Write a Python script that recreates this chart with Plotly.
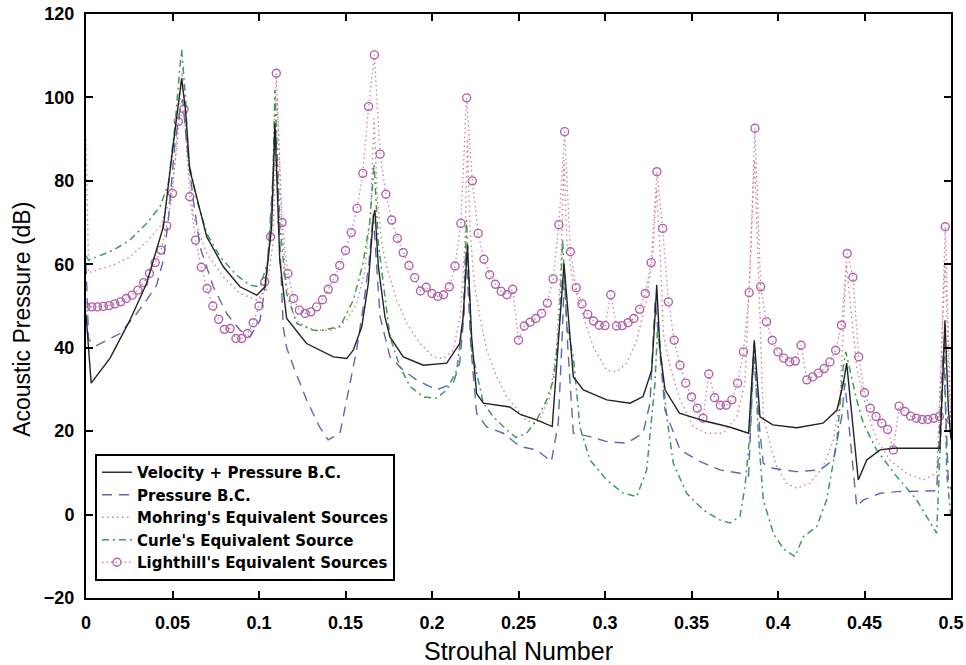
import plotly.graph_objects as go

# ---- Velocity + Pressure B.C. (solid) ----
vp_x = [0.0, 0.003, 0.0139, 0.0254, 0.035, 0.0447, 0.0505, 0.0553, 0.0575, 0.060, 0.0698, 0.0794,
        0.089, 0.0987, 0.1035, 0.1073, 0.1092, 0.112, 0.116, 0.1275, 0.143, 0.1507, 0.1545, 0.1594,
        0.1632, 0.1661, 0.167, 0.169, 0.1728, 0.1757, 0.1834, 0.195, 0.2085, 0.216, 0.218, 0.2205,
        0.2229, 0.2258, 0.2297, 0.245, 0.251, 0.2605, 0.2695, 0.2763, 0.2817, 0.2875, 0.301, 0.3145,
        0.322, 0.327, 0.3289, 0.3299, 0.3318, 0.3347, 0.343, 0.3588, 0.372, 0.383, 0.3863, 0.3896,
        0.397, 0.4108, 0.426, 0.434, 0.4378, 0.4397, 0.4464, 0.4513, 0.459, 0.4667, 0.4936, 0.4965,
        0.4985, 0.5]
vp_y = [48.0, 31.5, 37.5, 46.6, 55.4, 69.0, 89.0, 104.6, 97.0, 82.6, 66.6, 59.4,
        54.6, 52.6, 54.6, 69.0, 93.8, 61.0, 47.0, 41.0, 37.8, 37.4, 39.4, 45.0,
        55.4, 71.4, 73.0, 59.4, 47.4, 42.6, 37.8, 35.8, 36.3, 41.0, 47.4, 64.6,
        42.6, 29.0, 26.7, 25.8, 24.0, 22.7, 21.1, 60.2, 33.0, 29.9, 27.5, 26.7,
        28.3, 34.6, 47.4, 55.0, 39.4, 29.9, 24.3, 22.3, 21.0, 19.5, 41.8, 23.4,
        21.5, 20.8, 21.9, 25.0, 31.5, 36.3, 8.3, 13.1, 15.5, 15.9, 15.9, 46.6,
        25.0, 18.0]

# ---- Pressure B.C. (dashed) ----
pb_x = [0.0, 0.0015, 0.006, 0.0197, 0.0293, 0.035, 0.0408, 0.0447, 0.0476, 0.0514, 0.0543, 0.0558,
        0.0582, 0.062, 0.0659, 0.0736, 0.0813, 0.089, 0.0948, 0.1006, 0.1044, 0.1073, 0.1098, 0.1125,
        0.114, 0.116, 0.12, 0.1275, 0.135, 0.14, 0.1468, 0.1507, 0.1564, 0.160, 0.1635, 0.166,
        0.17, 0.1757, 0.1834, 0.191, 0.2027, 0.2123, 0.216, 0.2185, 0.2197, 0.2225, 0.2258, 0.2316,
        0.2412, 0.2509, 0.2605, 0.269, 0.273, 0.2755, 0.2765, 0.2785, 0.2817, 0.2913, 0.301, 0.3125,
        0.322, 0.326, 0.329, 0.3315, 0.3347, 0.3434, 0.355, 0.3665, 0.378, 0.383, 0.386, 0.3895,
        0.3915, 0.397, 0.4108, 0.4243, 0.432, 0.4368, 0.4387, 0.4455, 0.4494, 0.459, 0.4686, 0.4917,
        0.4956, 0.4985, 0.5]
pb_y = [60.0, 42.0, 40.5, 43.4, 48.2, 51.4, 55.0, 61.0, 70.6, 89.0, 97.0, 99.5,
        89.0, 75.4, 64.2, 54.6, 48.2, 44.2, 42.6, 46.6, 57.0, 77.0, 92.0, 60.0,
        45.0, 40.0, 35.4, 27.5, 21.0, 17.9, 19.5, 27.5, 39.4, 49.0, 60.0, 72.0,
        47.4, 37.8, 34.6, 32.3, 29.9, 31.5, 36.3, 48.0, 63.4, 40.0, 24.3, 21.0,
        19.5, 16.3, 15.5, 12.7, 21.9, 45.0, 58.0, 40.0, 19.5, 18.7, 17.5, 17.1,
        19.5, 26.7, 51.4, 40.0, 25.0, 15.5, 12.7, 10.7, 9.9, 9.3, 38.0, 20.0,
        12.3, 11.1, 10.3, 10.7, 13.1, 23.4, 31.5, 1.9, 3.5, 5.1, 5.5, 5.7,
        39.4, 7.5, 6.0]

# ---- Mohring's Equivalent Sources (dotted) ----
mo_x = [0.0, 0.0015, 0.0158, 0.0254, 0.035, 0.0428, 0.0486, 0.0525, 0.0555, 0.058, 0.062, 0.0698,
        0.0794, 0.089, 0.0987, 0.1044, 0.108, 0.1105, 0.113, 0.116, 0.121, 0.1315, 0.143, 0.1507,
        0.1565, 0.161, 0.1645, 0.1665, 0.1685, 0.171, 0.1738, 0.1796, 0.1854, 0.1931, 0.2008, 0.2066,
        0.2123, 0.2165, 0.219, 0.2205, 0.222, 0.2245, 0.2277, 0.2316, 0.2374, 0.2432, 0.251, 0.2547,
        0.2605, 0.2624, 0.2682, 0.272, 0.2745, 0.2763, 0.278, 0.2817, 0.2875, 0.2933, 0.301, 0.3067,
        0.3125, 0.3183, 0.324, 0.3275, 0.3298, 0.332, 0.3337, 0.3376, 0.3434, 0.351, 0.3588, 0.3684,
        0.3761, 0.3809, 0.3865, 0.3915, 0.3954, 0.3992, 0.405, 0.4108, 0.4185, 0.4262, 0.432, 0.4358,
        0.4395, 0.4455, 0.4513, 0.457, 0.4647, 0.4744, 0.484, 0.4917, 0.4965, 0.5]
mo_y = [90.0, 58.0, 59.8, 61.8, 65.4, 69.0, 75.4, 88.0, 106.0, 90.0, 71.4, 62.6,
        57.0, 53.0, 51.4, 53.8, 65.0, 100.0, 70.0, 55.0, 46.6, 44.2, 44.2, 46.6,
        50.6, 58.0, 72.0, 95.0, 75.0, 65.0, 59.4, 51.4, 45.8, 41.0, 37.8, 37.4,
        39.4, 48.0, 65.0, 90.0, 68.0, 55.0, 47.4, 39.4, 33.0, 28.2, 24.3, 22.5,
        21.9, 23.0, 28.2, 40.0, 60.0, 85.0, 65.0, 55.4, 47.4, 40.2, 34.6, 34.2,
        36.3, 41.8, 51.4, 62.0, 78.0, 62.0, 43.4, 35.4, 27.5, 21.0, 19.5, 19.5,
        23.4, 31.5, 85.0, 23.4, 17.0, 11.5, 7.5, 6.3, 7.5, 11.5, 17.9, 27.5,
        60.0, 35.4, 25.0, 17.9, 13.1, 9.9, 8.3, 9.9, 60.0, 20.0]

# ---- Curle's Equivalent Source (dash-dot) ----
cu_x = [0.0, 0.0015, 0.0158, 0.0254, 0.035, 0.0428, 0.0476, 0.0514, 0.0543, 0.0553, 0.0575, 0.0592,
        0.0641, 0.0698, 0.0775, 0.0871, 0.0948, 0.1006, 0.1054, 0.1079, 0.1092, 0.1121, 0.116, 0.1218,
        0.1315, 0.135, 0.1468, 0.1545, 0.16, 0.164, 0.1665, 0.169, 0.1757, 0.1815, 0.1873, 0.195,
        0.2027, 0.2085, 0.2143, 0.2181, 0.22, 0.2229, 0.2297, 0.2354, 0.2432, 0.2485, 0.2547, 0.2605,
        0.2663, 0.2702, 0.2735, 0.2755, 0.278, 0.2817, 0.2855, 0.2913, 0.301, 0.3106, 0.3183, 0.3241,
        0.327, 0.3289, 0.3305, 0.3357, 0.3395, 0.3472, 0.3568, 0.3665, 0.3723, 0.378, 0.3809, 0.3838,
        0.3861, 0.3886, 0.3915, 0.3973, 0.4031, 0.4098, 0.4146, 0.4224, 0.4281, 0.4339, 0.4377, 0.4392,
        0.4455, 0.4493, 0.457, 0.4686, 0.4802, 0.4917, 0.4945, 0.4962, 0.4975, 0.5]
cu_y = [62.0, 61.0, 63.4, 65.8, 69.8, 73.8, 79.4, 93.0, 107.4, 111.4, 100.0, 85.0,
        75.4, 67.4, 61.8, 57.4, 55.0, 54.6, 61.0, 77.0, 101.8, 69.0, 53.0, 45.8,
        44.2, 44.1, 45.0, 51.4, 60.0, 70.0, 84.0, 65.0, 42.6, 35.4, 30.7, 28.2,
        27.9, 29.9, 34.6, 47.4, 70.6, 39.4, 26.7, 23.5, 20.3, 18.5, 19.5, 22.7,
        27.5, 32.3, 45.0, 66.0, 45.0, 37.8, 21.0, 13.1, 8.3, 5.1, 4.3, 10.7,
        23.4, 31.5, 46.0, 23.4, 12.3, 5.1, 1.1, -1.3, -2.0, -0.5, 6.7, 19.5,
        41.0, 19.5, 3.5, -4.5, -8.2, -10.1, -5.3, -2.9, 3.5, 17.0, 35.4, 39.0,
        27.5, 21.9, 15.5, 9.1, 3.5, -4.5, 23.4, 42.6, 10.0, -1.0]

# ---- Lighthill's Equivalent Sources (dotted with circles), sampled every 1/300 ----
lh_k = list(range(151))
lh_y = [49.8, 49.8, 49.8, 49.9, 50.1, 50.5, 51.0, 51.8, 52.6, 53.8,
        55.6, 57.8, 60.4, 63.4, 69.2, 77.0, 94.2, 97.2, 76.2, 65.8,
        59.3, 54.2, 50.0, 46.8, 44.4, 44.6, 42.2, 42.2, 43.4, 46.0,
        50.0, 55.8, 66.6, 105.8, 70.0, 57.8, 51.8, 49.0, 48.2, 48.6,
        49.8, 51.5, 54.0, 56.6, 59.7, 63.3, 67.6, 73.4, 81.8, 97.8,
        110.2, 86.4, 76.8, 70.6, 66.2, 62.8, 59.7, 56.8, 53.6, 54.5,
        53.0, 52.3, 52.7, 54.6, 59.6, 69.8, 99.9, 80.0, 67.4, 61.2,
        57.5, 55.2, 53.5, 52.7, 54.0, 41.8, 45.2, 46.1, 47.0, 48.2,
        50.7, 56.5, 69.5, 91.8, 63.0, 54.4, 50.5, 48.0, 46.4, 45.4,
        45.3, 52.7, 45.2, 45.3, 46.0, 47.0, 49.2, 53.0, 60.4, 82.2,
        68.6, 51.0, 41.8, 35.8, 31.5, 28.2, 25.5, 23.1, 33.7, 28.0,
        26.2, 26.2, 27.5, 31.5, 39.0, 53.2, 92.6, 54.6, 46.2, 41.8,
        39.0, 37.5, 36.6, 36.8, 40.6, 32.3, 33.0, 33.9, 35.0, 36.6,
        39.4, 45.4, 62.6, 56.9, 37.8, 29.2, 25.5, 23.5, 21.9, 20.4,
        15.5, 26.0, 24.7, 23.6, 23.1, 22.8, 22.8, 23.1, 23.5, 69.0,
        22.7]
lh_x = [k / 300 for k in lh_k]

x_ticks = [0, 0.05, 0.1, 0.15, 0.2, 0.25, 0.3, 0.35, 0.4, 0.45, 0.5]
x_tick_text = ["0", "0.05", "0.1", "0.15", "0.2", "0.25", "0.3", "0.35", "0.4", "0.45", "0.5"]
y_ticks = [-20, 0, 20, 40, 60, 80, 100, 120]

names = ["Velocity + Pressure B.C.", "Pressure B.C.", "Mohring's Equivalent Sources",
         "Curle's Equivalent Source", "Lighthill's Equivalent Sources"]

fig = go.Figure()

# drawn back to front; legendrank keeps the legend in its own order
fig.add_trace(go.Scatter(
    x=lh_x, y=lh_y, name=names[4], legendrank=5, mode="lines+markers",
    line=dict(color="#cf7fae", width=1.3, dash="1.5px,3px"),
    marker=dict(symbol="circle-open", size=8, color="#b063a8", line=dict(width=1.4))))
fig.add_trace(go.Scatter(
    x=mo_x, y=mo_y, name=names[2], legendrank=3, mode="lines",
    line=dict(color="#d97f86", width=1.4, dash="1.5px,3.5px")))
fig.add_trace(go.Scatter(
    x=cu_x, y=cu_y, name=names[3], legendrank=4, mode="lines",
    line=dict(color="#3f9a5e", width=1.5, dash="7px,4px,2px,4px")))
fig.add_trace(go.Scatter(
    x=pb_x, y=pb_y, name=names[1], legendrank=2, mode="lines",
    line=dict(color="#5f68ad", width=1.4, dash="10px,7px")))
fig.add_trace(go.Scatter(
    x=vp_x, y=vp_y, name=names[0], legendrank=1, mode="lines",
    line=dict(color="#222222", width=1.4)))

axis_common = dict(
    showline=True, linecolor="black", linewidth=2, mirror="ticks",
    ticks="inside", ticklen=7, tickwidth=1.6, tickcolor="black",
    showgrid=False, zeroline=False, automargin=False,
    tickfont=dict(family="Liberation Sans, Arial", size=18, color="black", weight="bold"),
)

fig.update_xaxes(range=[0, 0.5], tickvals=x_ticks, ticktext=x_tick_text,
                 ticklabelstandoff=7,
                 title=dict(text="Strouhal Number", standoff=12,
                            font=dict(family="Liberation Sans, Arial", size=25, color="black")),
                 **axis_common)
fig.update_yaxes(range=[-20, 120], tickvals=y_ticks, ticklabelstandoff=6, **axis_common)

# vertical axis title, set slightly below the plot's mid-height
fig.add_annotation(
    text="Acoustic Pressure (dB)", textangle=-90,
    xref="paper", yref="paper", x=-0.074, y=0.478,
    xanchor="center", yanchor="middle", showarrow=False,
    font=dict(family="Liberation Sans, Arial", size=23, color="black"))

fig.update_layout(
    width=966, height=665,
    margin=dict(l=86, r=15, t=14, b=67),
    paper_bgcolor="white", plot_bgcolor="white",
    showlegend=True,
    legend=dict(x=0.0104, y=0.2466, xanchor="left", yanchor="top",
                bgcolor="white", bordercolor="black", borderwidth=2,
                font=dict(family="DejaVu Sans", size=15, color="black", weight="bold"),
                tracegroupgap=0),
)

fig.write_html("out.html")
